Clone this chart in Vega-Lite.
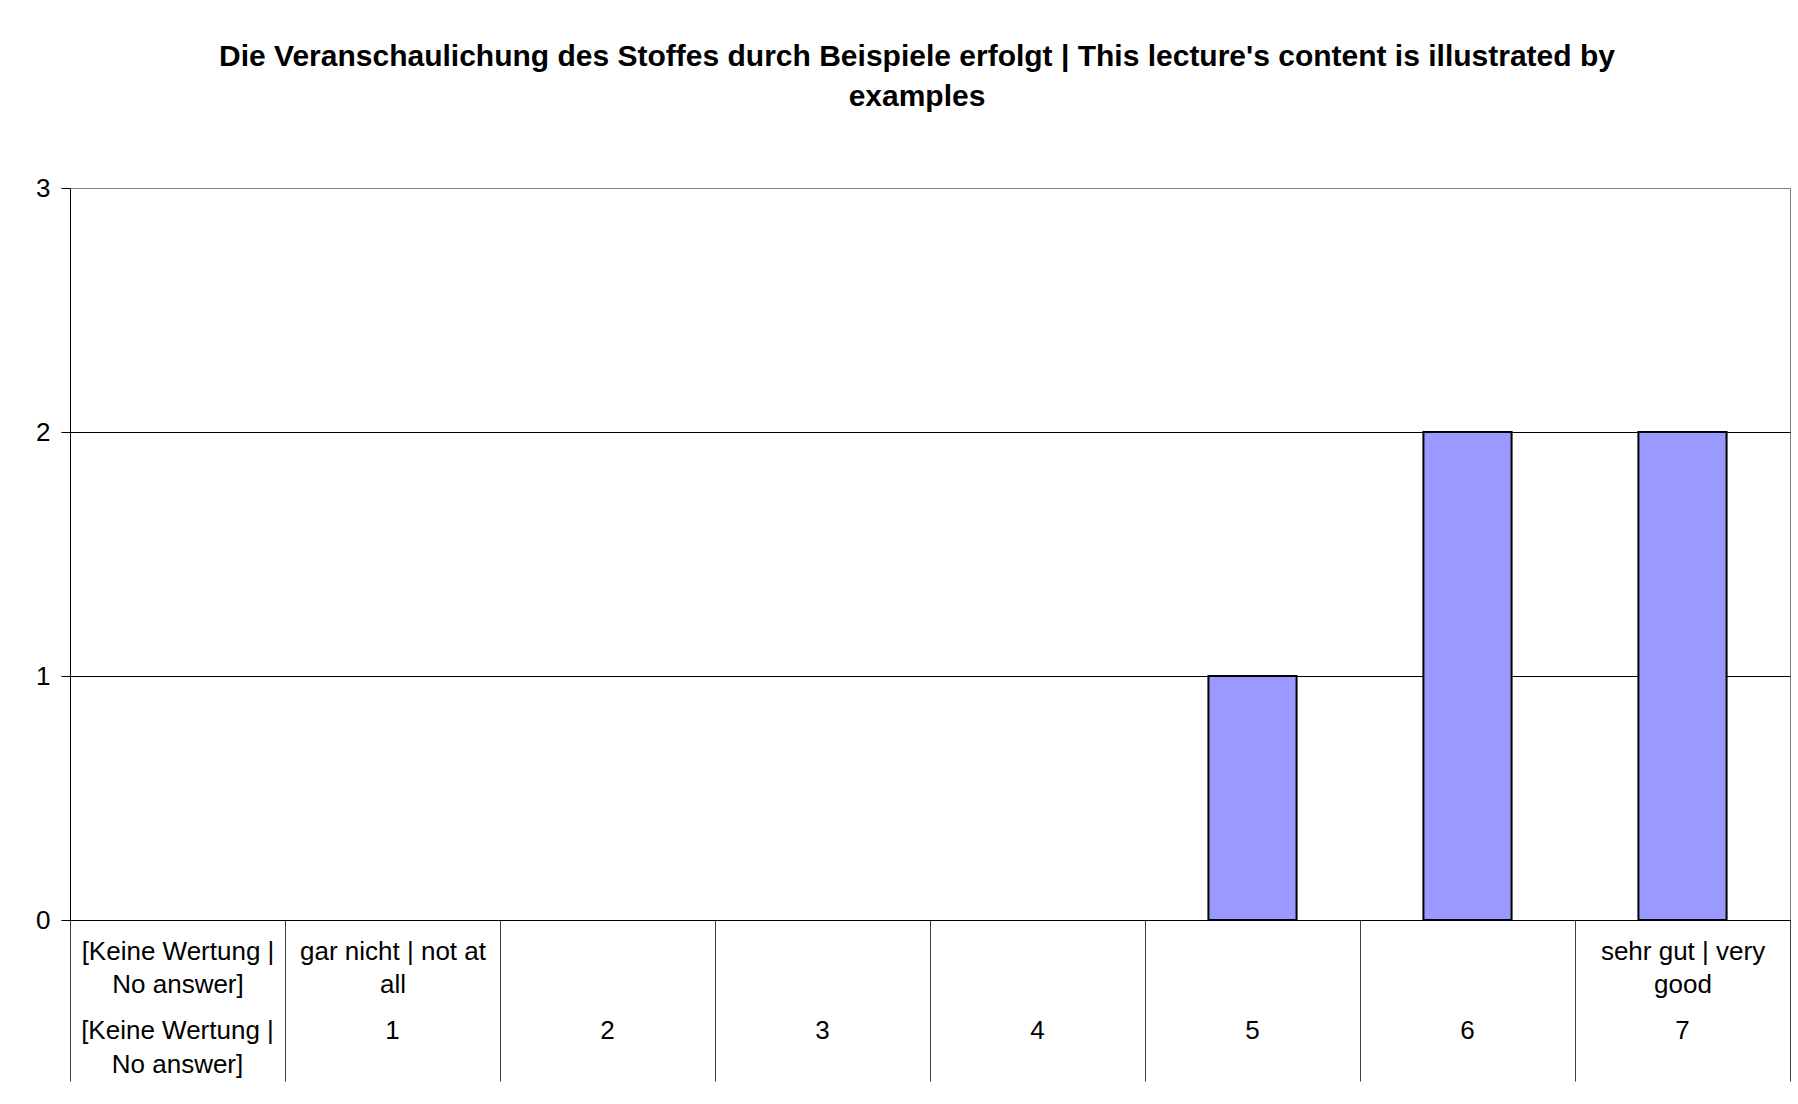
{
  "$schema": "https://vega.github.io/schema/vega-lite/v6.json",
  "width": 1720,
  "height": 732,
  "autosize": {"type": "none"},
  "padding": {"left": 70, "top": 188, "right": 8, "bottom": 184},
  "background": "white",
  "config": {"font": "Liberation Sans", "view": {"stroke": "#808080", "strokeWidth": 1}},
  "title": {
    "text": ["Die Veranschaulichung des Stoffes durch Beispiele erfolgt | This lecture's content is illustrated by", "examples"],
    "font": "Liberation Sans",
    "fontSize": 30,
    "fontWeight": "bold",
    "lineHeight": 40,
    "anchor": "middle",
    "dx": -13,
    "offset": 63,
    "color": "#000000"
  },
  "data": {
    "values": [
      {"rating": "none", "count": 0},
      {"rating": "1", "count": 0},
      {"rating": "2", "count": 0},
      {"rating": "3", "count": 0},
      {"rating": "4", "count": 0},
      {"rating": "5", "count": 1},
      {"rating": "6", "count": 2},
      {"rating": "7", "count": 2}
    ]
  },
  "layer": [
    {
      "transform": [{"filter": "datum.count > 0"}],
      "mark": {"type": "bar", "fill": "#9999FF", "stroke": "#000000", "strokeWidth": 2, "width": {"band": 0.41}},
      "encoding": {
        "x": {
          "field": "rating",
          "type": "nominal",
          "sort": ["none", "1", "2", "3", "4", "5", "6", "7"],
          "scale": {"domain": ["none", "1", "2", "3", "4", "5", "6", "7"], "paddingInner": 0, "paddingOuter": 0},
          "axis": {
            "orient": "bottom",
            "title": null,
            "domain": true,
            "domainColor": "#000000",
            "domainWidth": 1,
            "ticks": true,
            "tickBand": "extent",
            "tickSize": 161,
            "tickColor": "#404040",
            "tickWidth": 1,
            "labelExpr": "datum.value == 'none' ? ['[Keine Wertung |', 'No answer]'] : datum.value == '1' ? ['gar nicht | not at', 'all'] : datum.value == '7' ? ['sehr gut | very', 'good'] : ''",
            "labelFont": "Liberation Sans",
            "labelFontSize": 26,
            "labelColor": "#000000",
            "labelLineHeight": 33,
            "labelBaseline": "top",
            "labelPadding": -143,
            "labelLimit": 0,
            "labelOverlap": false,
            "labelAngle": 0,
            "grid": false
          }
        },
        "y": {
          "field": "count",
          "type": "quantitative",
          "scale": {"domain": [0, 3]},
          "axis": {
            "title": null,
            "values": [0, 1, 2, 3],
            "format": "d",
            "grid": true,
            "gridColor": {"condition": {"test": "datum.value === 3", "value": "#808080"}, "value": "#000000"},
            "gridWidth": 1,
            "domain": true,
            "domainColor": "#000000",
            "tickSize": 9,
            "tickColor": "#000000",
            "labelFont": "Liberation Sans",
            "labelFontSize": 26,
            "labelColor": "#000000",
            "labelPadding": 11
          }
        }
      }
    },
    {
      "mark": {"type": "point", "opacity": 0},
      "encoding": {
        "x": {
          "field": "rating",
          "type": "nominal",
          "sort": ["none", "1", "2", "3", "4", "5", "6", "7"],
          "axis": {
            "orient": "bottom",
            "title": null,
            "domain": false,
            "ticks": false,
            "tickSize": 0,
            "grid": false,
            "labelExpr": "datum.value == 'none' ? ['[Keine Wertung |', 'No answer]'] : datum.value",
            "labelFont": "Liberation Sans",
            "labelFontSize": 26,
            "labelColor": "#000000",
            "labelLineHeight": 34,
            "labelBaseline": "top",
            "labelPadding": 97,
            "labelLimit": 0,
            "labelOverlap": false,
            "labelAngle": 0
          }
        }
      }
    }
  ],
  "resolve": {"axis": {"x": "independent"}}
}
